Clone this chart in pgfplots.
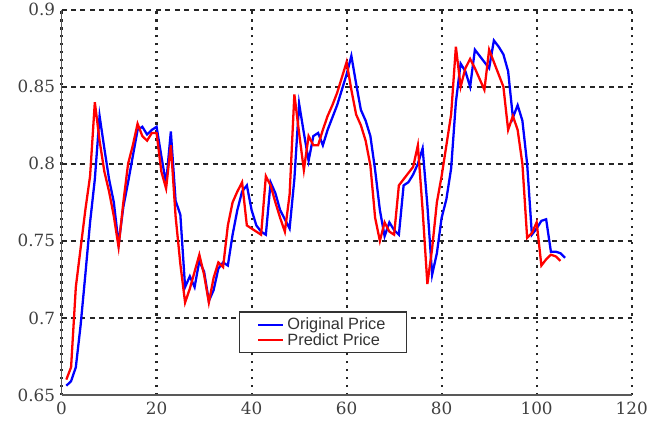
\documentclass[border=0pt]{standalone}
\usepackage{fontspec}
\setmainfont{DejaVu Serif}
\newfontfamily\legendfont{Liberation Sans}
\usepackage{pgfplots}
\pgfplotsset{compat=1.18}
\pgfplotstableread{
x y
1 0.656
2 0.659
3 0.668
4 0.695
5 0.728
6 0.762
7 0.790
8 0.831
9 0.810
10 0.790
11 0.775
12 0.748
13 0.772
14 0.788
15 0.805
16 0.822
17 0.824
18 0.819
19 0.822
20 0.824
21 0.805
22 0.787
23 0.821
24 0.776
25 0.767
26 0.720
27 0.727
28 0.720
29 0.737
30 0.730
31 0.711
32 0.718
33 0.732
34 0.736
35 0.734
36 0.754
37 0.770
38 0.782
39 0.786
40 0.770
41 0.760
42 0.756
43 0.754
44 0.788
45 0.781
46 0.770
47 0.764
48 0.758
49 0.790
50 0.839
51 0.820
52 0.802
53 0.818
54 0.820
55 0.812
56 0.822
57 0.830
58 0.838
59 0.848
60 0.858
61 0.870
62 0.852
63 0.835
64 0.828
65 0.818
66 0.796
67 0.770
68 0.753
69 0.762
70 0.757
71 0.754
72 0.786
73 0.788
74 0.793
75 0.800
76 0.810
77 0.773
78 0.728
79 0.742
80 0.765
81 0.777
82 0.797
83 0.840
84 0.865
85 0.860
86 0.850
87 0.874
88 0.870
89 0.866
90 0.862
91 0.880
92 0.876
93 0.871
94 0.860
95 0.830
96 0.838
97 0.828
98 0.800
99 0.754
100 0.758
101 0.763
102 0.764
103 0.743
104 0.743
105 0.742
106 0.739
}\original
\pgfplotstableread{
x y
1 0.660
2 0.668
3 0.720
4 0.745
5 0.770
6 0.792
7 0.840
8 0.815
9 0.795
10 0.782
11 0.766
12 0.746
13 0.775
14 0.800
15 0.812
16 0.826
17 0.818
18 0.815
19 0.820
20 0.820
21 0.795
22 0.784
23 0.812
24 0.766
25 0.735
26 0.710
27 0.719
28 0.730
29 0.741
30 0.728
31 0.710
32 0.726
33 0.736
34 0.733
35 0.760
36 0.775
37 0.782
38 0.788
39 0.760
40 0.758
41 0.756
42 0.754
43 0.792
44 0.786
45 0.775
46 0.765
47 0.756
48 0.780
49 0.845
50 0.820
51 0.796
52 0.818
53 0.812
54 0.812
55 0.822
56 0.831
57 0.838
58 0.846
59 0.856
60 0.866
61 0.848
62 0.832
63 0.825
64 0.815
65 0.799
66 0.765
67 0.750
68 0.762
69 0.756
70 0.754
71 0.786
72 0.790
73 0.794
74 0.798
75 0.812
76 0.770
77 0.722
78 0.745
79 0.775
80 0.792
81 0.812
82 0.832
83 0.876
84 0.850
85 0.862
86 0.868
87 0.862
88 0.855
89 0.848
90 0.874
91 0.866
92 0.858
93 0.850
94 0.822
95 0.831
96 0.822
97 0.800
98 0.752
99 0.755
100 0.762
101 0.734
102 0.738
103 0.741
104 0.740
105 0.737
}\predict
\begin{document}
\begin{tikzpicture}
\begin{axis}[
  scale only axis, width=574bp, height=388bp,
  xmin=0, xmax=120, ymin=0.65, ymax=0.9,
  xtick={0,20,...,120}, ytick={0.65,0.7,0.75,0.8,0.85,0.9},
  xticklabels={0,20,40,60,80,100,120},
  yticklabels={0.65,0.7,0.75,0.8,0.85,0.9},
  /pgf/number format/assume math mode=true,
  ticklabel style={font=\fontsize{17}{19}\selectfont, text=black!75},
  xticklabel style={yshift=-4bp},
  yticklabel style={xshift=-3bp},
  major tick length=0pt,
  axis x line*=bottom, axis y line*=left,
  axis line style={-, line width=1.8bp, black!65},
  grid=major,
  x grid style={black!85, line width=2.2bp, dash pattern=on 2.5bp off 5.5bp},
  y grid style={black!85, line width=2.2bp, dash pattern=on 5bp off 4.5bp},
  legend cell align=left,
  legend image code/.code={\draw[#1] (0bp,0bp) -- (25bp,0bp);},
  legend style={at={(axis cs:55,0.6906)}, anchor=center,
    font=\fontsize{16.5}{19}\selectfont\legendfont, text=black!80,
    draw=black!80, line width=1.5bp, inner xsep=18bp, inner ysep=4bp,
    row sep=-2bp, fill=white,
    nodes={inner xsep=3bp}},
]
\addplot[blue, line width=2.3bp] table[x=x,y=y] {\original};
\addlegendentry{Original Price}
\addplot[red, line width=2.3bp] table[x=x,y=y] {\predict};
\addlegendentry{Predict Price}
\end{axis}
\path ([shift={(-62bp,-29bp)}]current axis.south west) rectangle ([shift={(15bp,6bp)}]current axis.north east);
\end{tikzpicture}
\end{document}
